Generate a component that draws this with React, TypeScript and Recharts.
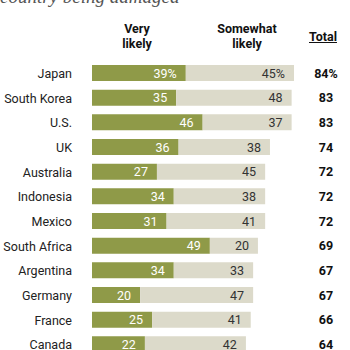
import React from "react";
import { BarChart, Bar, XAxis, YAxis, LabelList } from "recharts";

const countries = [
  "Japan",
  "South Korea",
  "U.S.",
  "UK",
  "Australia",
  "Indonesia",
  "Mexico",
  "South Africa",
  "Argentina",
  "Germany",
  "France",
  "Canada",
];
const veryLikely = [39, 35, 46, 36, 27, 34, 31, 49, 34, 20, 25, 22];
const somewhatLikely = [45, 48, 37, 38, 45, 38, 41, 20, 33, 47, 41, 42];
const totals = [84, 83, 83, 74, 72, 72, 72, 69, 67, 67, 66, 64];

const GREEN = "#8f9a48";
const BEIGE = "#dcdaca";
const FONT = "Roboto, 'Liberation Sans', Arial, sans-serif";

const data = countries.map((country, i) => ({
  country,
  very: veryLikely[i],
  somewhat: somewhatLikely[i],
  total: totals[i],
}));

const CountryTick = ({ x, y, payload }: any) => (
  <text
    x={x - 12}
    y={y}
    textAnchor='end'
    dominantBaseline='central'
    fontSize={12.5}
    fontFamily={FONT}
    fill='#222'
  >
    {payload.value}
  </text>
);

const makeInsideLabel =
  (color: string) =>
  ({ x, y, width, height, value, index }: any) => (
    <text
      x={x + width - 9}
      y={y + height / 2}
      textAnchor='end'
      dominantBaseline='central'
      fontSize={12.5}
      fontFamily={FONT}
      fill={color}
    >
      {index === 0 ? `${value}%` : value}
    </text>
  );

// totals column, drawn next to each row
const TotalLabel = ({ y, height, index }: any) => (
  <text
    x={326}
    y={y + height / 2}
    textAnchor='middle'
    dominantBaseline='central'
    fontSize={12.5}
    fontWeight={700}
    fontFamily={FONT}
    fill='#111'
  >
    {index === 0 ? `${totals[index]}%` : totals[index]}
  </text>
);

const headStyle: React.CSSProperties = {
  position: "absolute",
  fontFamily: FONT,
  fontWeight: 700,
  fontSize: 12.5,
  lineHeight: "15px",
  textAlign: "center",
  color: "#111",
};

export default function App() {
  return (
    <div
      style={{
        position: "absolute",
        left: 0,
        top: 0,
        width: 350,
        height: 350,
        overflow: "hidden",
        background: "#fff",
      }}
    >
      <div
        style={{
          position: "absolute",
          left: 0,
          top: -13,
          fontFamily: "'Liberation Serif', Georgia, serif",
          fontStyle: "italic",
          fontSize: 19,
          lineHeight: "20px",
          color: "#555",
          whiteSpace: "nowrap",
        }}
      >
        country being damaged
      </div>
      <div style={{ ...headStyle, left: 107, top: 21, width: 60 }}>
        Very
        <br />
        likely
      </div>
      <div style={{ ...headStyle, left: 202, top: 21, width: 90 }}>
        Somewhat
        <br />
        likely
      </div>
      <div
        style={{
          ...headStyle,
          left: 303,
          top: 29,
          width: 40,
          textDecoration: "underline",
        }}
      >
        Total
      </div>
      <BarChart
        width={350}
        height={360}
        data={data}
        layout='vertical'
        margin={{ top: 61, right: 17.5, bottom: 3, left: 0 }}
        barSize={16}
      >
        <XAxis type='number' domain={[0, 100]} hide />
        <YAxis
          type='category'
          dataKey='country'
          width={92}
          axisLine={false}
          tickLine={false}
          tick={<CountryTick />}
          interval={0}
        />
        <Bar dataKey='very' stackId='a' fill={GREEN} isAnimationActive={false}>
          <LabelList dataKey='very' content={makeInsideLabel("#fff")} />
        </Bar>
        <Bar
          dataKey='somewhat'
          stackId='a'
          fill={BEIGE}
          isAnimationActive={false}
        >
          <LabelList dataKey='somewhat' content={makeInsideLabel("#333")} />
          <LabelList dataKey='total' content={TotalLabel} />
        </Bar>
      </BarChart>
    </div>
  );
}
